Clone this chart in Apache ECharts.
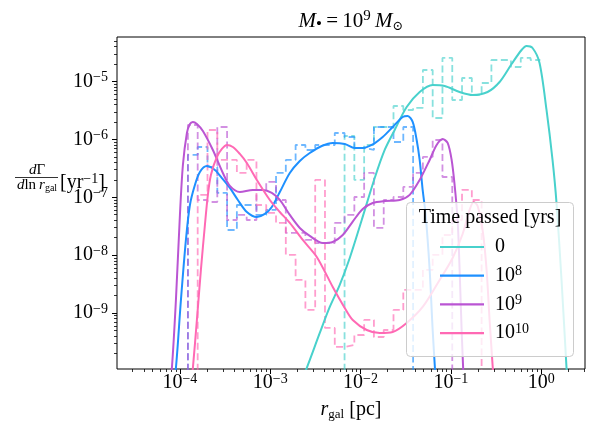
<!DOCTYPE html>
<html><head><meta charset="utf-8">
<script src="https://cdn.jsdelivr.net/npm/echarts@6.0.0/dist/echarts.min.js"></script>
<style>html,body{margin:0;padding:0;background:#fff}#c{width:597px;height:423px}</style>
</head><body><div id="c"></div>
<script>
// ---------- data ----------
const seriesNames = ['0', '10^8', '10^9', '10^10'];
const colors = ['#48D1CC', '#1E90FF', '#BA55D3', '#FF69B4'];
const xTickExps = [-4, -3, -2, -1, 0];
const yTickExps = [-9, -8, -7, -6, -5];
const X_MIN = 2.01e-5, X_MAX = 3.06, Y_MIN = 1.08e-10, Y_MAX = 5.87e-5;
const FLOOR = 1e-14; // empty bin (below the visible range)

const binEdges = [9.55e-5, 1.226e-4, 1.573e-4, 2.020e-4, 2.593e-4, 3.328e-4, 4.272e-4, 5.483e-4, 7.038e-4, 9.033e-4,
  1.1595e-3, 1.488e-3, 1.910e-3, 2.452e-3, 3.147e-3, 4.039e-3, 5.185e-3, 6.655e-3, 8.543e-3, 1.0965e-2,
  1.407e-2, 1.806e-2, 2.318e-2, 2.976e-2, 3.820e-2, 4.903e-2, 6.293e-2, 8.077e-2, 0.1037, 0.1330,
  0.1708, 0.2192, 0.2813, 0.3611, 0.4634, 0.5948, 0.7635, 0.9800, 1.258];

const hist0 = [null, null, null, null, null, null, null, null, null, null, null, null, null, null, null, null,
  0, 1.145e-6, 1.99e-7, 8.00e-7, 1.637e-6, 1.637e-6, 3.77e-6, 3.22e-6, 3.49e-6, 1.58e-5, 2.34e-6, 2.55e-5,
  4.79e-6, 1.149e-5, 5.85e-6, 9.42e-6, 2.35e-5, 2.35e-5, 1.779e-5, 2.55e-5, 2.35e-5, null];
const hist8 = [0, 5.38e-7, 7.39e-7, 3.34e-7, 1.19e-7, 2.72e-8, 7.36e-8, 7.36e-8, 4.95e-8, 6.04e-8, 2.63e-7,
  4.41e-7, 8.00e-7, 6.56e-7, 8.00e-7, 8.00e-7, 1.290e-6, 1.100e-6, 7.10e-7, 6.56e-7, 1.637e-6, 1.637e-6,
  9.02e-7, 1.637e-6, 0, null, null, null, null, null, null, null, null, null, null, null, null, null];
const hist9 = [0, 1.773e-6, 8.98e-8, 8.29e-8, 1.637e-6, 4.05e-8, 4.95e-8, 4.05e-8, 1.34e-7, 1.84e-7, 8.98e-8,
  2.42e-8, 2.42e-8, 1.83e-8, 1.62e-8, 1.62e-8, 3.60e-8, 4.95e-8, 1.01e-7, 2.63e-7, 2.95e-8, 8.98e-8, 1.01e-7,
  1.51e-7, 2.63e-7, 4.97e-7, 9.76e-7, 2.24e-7, 0, null, null, null, null, null, null, null, null, null];
const hist10 = [null, 0, 1.10e-7, 1.453e-6, 4.41e-7, 4.41e-7, 2.63e-7, 4.41e-7, 7.36e-8, 5.36e-8, 3.60e-8,
  1.008e-8, 3.73e-9, 1.131e-9, 1.99e-7, 5.53e-10, 2.60e-10, 2.81e-10, 4.18e-10, 7.60e-10, 3.86e-10, 5.10e-10,
  1.131e-9, 2.51e-9, 2.51e-9, 5.55e-9, 1.008e-8, 2.23e-8, 4.05e-8, 1.34e-7, 8.98e-8, 0, null, null, null, null, null, null];

const curve0X = [2.125e-3, 2.541e-3, 3.538e-3, 4.563e-3, 5.887e-3, 7.596e-3, 1.031e-2, 1.436e-2, 1.852e-2, 2.389e-2,
  3.244e-2, 4.517e-2, 6.292e-2, 8.537e-2, 0.1251, 0.1742, 0.2552, 0.3466, 0.4708, 0.6069, 0.6895, 0.8034, 0.9601,
  1.147, 1.337, 1.480, 1.682, 1.910, 2.010];
const curve0Y = [5.78e-11, 1.13e-10, 4.53e-10, 1.274e-9, 3.06e-9, 8.95e-9, 4.05e-8, 2.15e-7, 6.56e-7, 1.453e-6,
  3.63e-6, 6.59e-6, 8.70e-6, 8.36e-6, 6.59e-6, 5.85e-6, 6.59e-6, 9.80e-6, 2.005e-5, 3.50e-5, 4.10e-5, 3.79e-5, 2.09e-5,
  3.22e-6, 4.41e-7, 7.97e-8, 3.73e-9, 1.13e-10, 3.18e-11];

const curve8X = [7.75e-5, 9.03e-5, 1.026e-4, 1.165e-4, 1.290e-4, 1.465e-4, 1.664e-4, 1.989e-4, 2.438e-4, 2.915e-4,
  3.573e-4, 4.381e-4, 5.509e-4, 7.11e-4, 8.72e-4, 1.041e-3, 1.277e-3, 1.647e-3, 2.125e-3, 2.741e-3, 3.722e-3,
  4.927e-3, 6.687e-3, 8.625e-3, 1.057e-2, 1.330e-2, 1.760e-2, 2.271e-2, 2.929e-2, 3.327e-2, 3.779e-2, 4.184e-2,
  4.517e-2, 4.876e-2, 5.263e-2, 5.828e-2, 6.292e-2, 6.788e-2];
const curve8Y = [1.44e-11, 1.13e-10, 1.68e-9, 1.83e-8, 7.36e-8, 1.63e-7, 2.74e-7, 3.47e-7, 2.96e-7, 2.15e-7,
  1.45e-7, 8.98e-8, 5.57e-8, 4.57e-8, 5.15e-8, 6.80e-8, 1.23e-7, 2.63e-7, 4.24e-7, 5.82e-7, 7.69e-7,
  8.67e-7, 8.33e-7, 7.10e-7, 7.10e-7, 8.00e-7, 1.100e-6, 1.637e-6, 2.44e-6, 2.54e-6, 2.00e-6, 9.76e-7,
  4.41e-7, 1.34e-7, 4.95e-8, 5.55e-9, 5.10e-10, 7.05e-11];

const curve9X = [7.18e-5, 8.15e-5, 9.03e-5, 1e-4, 1.079e-4, 1.195e-4, 1.290e-4, 1.392e-4, 1.542e-4, 1.796e-4,
  2.317e-4, 2.989e-4, 3.573e-4, 4.611e-4, 6.42e-4, 8.28e-4, 1.041e-3, 1.277e-3, 1.647e-3, 2.125e-3, 2.741e-3,
  3.818e-3, 4.927e-3, 6.355e-3, 8.197e-3, 1.057e-2, 1.365e-2, 1.852e-2, 2.714e-2, 3.501e-2, 4.517e-2, 5.828e-2,
  6.96e-2, 8.114e-2, 9.218e-2, 0.1021, 0.1101, 0.1189, 0.1251, 0.1317, 0.1385];
const curve9Y = [1.44e-11, 1.13e-10, 1.68e-9, 4.95e-8, 3.61e-7, 1.290e-6, 1.845e-6, 2.00e-6, 1.845e-6, 1.397e-6,
  6.56e-7, 2.63e-7, 1.57e-7, 1.23e-7, 1.34e-7, 1.34e-7, 1.19e-7, 8.98e-8, 4.95e-8, 2.95e-8, 2.15e-8,
  1.62e-8, 1.69e-8, 2.23e-8, 3.80e-8, 6.28e-8, 7.97e-8, 8.63e-8, 8.98e-8, 1.10e-7, 1.99e-7, 4.41e-7,
  8.00e-7, 1.016e-6, 8.67e-7, 4.41e-7, 1.63e-7, 4.05e-8, 5.55e-9, 5.10e-10, 7.05e-11];

const curve10X = [1.226e-4, 1.392e-4, 1.542e-4, 1.707e-4, 1.891e-4, 2.04e-4, 2.203e-4, 2.566e-4, 2.915e-4, 3.311e-4,
  3.857e-4, 4.611e-4, 5.509e-4, 7.11e-4, 9.90e-4, 1.277e-3, 1.647e-3, 2.294e-3, 3.277e-3, 4.927e-3, 6.687e-3,
  8.197e-3, 1.171e-2, 1.631e-2, 2.271e-2, 3.244e-2, 4.876e-2, 7.515e-2, 0.1047, 0.1351, 0.1614, 0.1788, 0.1980,
  0.2248, 0.2489, 0.2686, 0.2974];
const curve10Y = [1.44e-11, 1.13e-10, 7.60e-10, 5.55e-9, 3.32e-8, 1.10e-7, 2.43e-7, 4.97e-7, 6.83e-7, 8.00e-7,
  7.39e-7, 5.60e-7, 3.91e-7, 1.99e-7, 8.98e-8, 5.57e-8, 3.60e-8, 1.83e-8, 9.31e-9, 2.82e-9, 1.225e-9,
  7.60e-10, 5.10e-10, 4.53e-10, 4.72e-10, 6.75e-10, 1.274e-9, 3.73e-9, 8.95e-9, 2.32e-8, 6.04e-8, 8.29e-8, 7.08e-8,
  2.72e-8, 5.55e-9, 7.60e-10, 7.05e-11];

// ---------- helpers ----------
const FONT = '"Liberation Serif", "DejaVu Serif", serif';
const curvesX = [curve0X, curve8X, curve9X, curve10X];
const curvesY = [curve0Y, curve8Y, curve9Y, curve10Y];
const hists = [hist0, hist8, hist9, hist10];

function stepData(vals) {
  const pts = [];
  const s = vals.findIndex(v => v !== null);
  let e = vals.length - 1;
  while (vals[e] === null) e--;
  for (let i = s; i <= e; i++) pts.push([binEdges[i], vals[i] || FLOOR]);
  pts.push([binEdges[e + 1], vals[e] || FLOOR]);
  return pts;
}
const LX = [Math.log10(X_MIN), Math.log10(X_MAX)];
const LY = [Math.log10(Y_MIN), Math.log10(Y_MAX)];
function minorLogs(ext) {
  const out = [];
  for (let e = Math.floor(ext[0]); e <= Math.ceil(ext[1]); e++)
    for (let m = 2; m <= 9; m++) {
      const v = e + Math.log10(m);
      if (v > ext[0] && v < ext[1]) out.push(v);
    }
  return out;
}
function powLabel(v) {
  const e = Math.round(v);
  return '{b|10}{s|' + (e < 0 ? '\u2212' + (-e) : String(e)) + '}';
}
const tickRich = {
  b: { fontFamily: FONT, fontSize: 20, lineHeight: 22, color: '#000' },
  s: { fontFamily: FONT, fontSize: 14, lineHeight: 9, verticalAlign: 'top', color: '#000' }
};
const legendLabels = { '0': '{g|}{b|0}', '10^8': '{g|}{b|10}{s|8}', '10^9': '{g|}{b|10}{s|9}', '10^10': '{g|}{b|10}{s|10}' };

const gridRect = { left: 117, right: 12, top: 37, bottom: 54 };
const hidden = { axisLine: { show: false }, axisTick: { show: false }, axisLabel: { show: false }, splitLine: { show: false } };
const noLine = { show: false, onZero: false };

const series = [];
hists.forEach((h, i) => series.push({
  name: seriesNames[i] + ' hist', type: 'line', xAxisIndex: 0, yAxisIndex: 0,
  data: stepData(h), step: 'end', showSymbol: false, symbol: 'none', z: 2,
  lineStyle: { color: colors[i], width: 1.8, type: [7, 3.5], opacity: 0.65 }, silent: true
}));
curvesX.forEach((xs, i) => series.push({
  name: seriesNames[i], type: 'line', xAxisIndex: 0, yAxisIndex: 0,
  data: xs.map((x, j) => [x, curvesY[i][j]]), smooth: 0.3, showSymbol: false, symbol: 'none', z: 3,
  itemStyle: { color: colors[i] }, lineStyle: { color: colors[i], width: 2 }
}));

const chart = echarts.init(document.getElementById('c'), null, { renderer: 'canvas' });
chart.setOption({
  animation: false,
  backgroundColor: '#fff',
  grid: [
    Object.assign({ show: true, borderColor: '#000', borderWidth: 1, backgroundColor: 'transparent' }, gridRect),
    Object.assign({ show: false }, gridRect),
    Object.assign({ show: false }, gridRect)
  ],
  xAxis: [
    Object.assign({ type: 'log', logBase: 10, gridIndex: 0, min: X_MIN, max: X_MAX }, hidden),
    { type: 'value', gridIndex: 1, min: LX[0], max: LX[1], position: 'bottom',
      axisLine: noLine, splitLine: { show: false },
      axisTick: { show: true, length: 5, customValues: xTickExps, lineStyle: { color: '#000', width: 1 } },
      axisLabel: { show: true, customValues: xTickExps, formatter: powLabel, rich: tickRich, margin: 3 } },
    { type: 'value', gridIndex: 2, min: LX[0], max: LX[1], position: 'bottom',
      axisLine: noLine, splitLine: { show: false }, axisLabel: { show: false },
      axisTick: { show: true, length: 3, customValues: minorLogs(LX), lineStyle: { color: '#000', width: 0.8 } } }
  ],
  yAxis: [
    Object.assign({ type: 'log', logBase: 10, gridIndex: 0, min: Y_MIN, max: Y_MAX }, hidden),
    { type: 'value', gridIndex: 1, min: LY[0], max: LY[1], position: 'left',
      axisLine: noLine, splitLine: { show: false },
      axisTick: { show: true, length: 5, customValues: yTickExps, lineStyle: { color: '#000', width: 1 } },
      axisLabel: { show: true, customValues: yTickExps, formatter: powLabel, rich: tickRich, margin: 9 } },
    { type: 'value', gridIndex: 2, min: LY[0], max: LY[1], position: 'left',
      axisLine: noLine, splitLine: { show: false }, axisLabel: { show: false },
      axisTick: { show: true, length: 3, customValues: minorLogs(LY), lineStyle: { color: '#000', width: 0.8 } } }
  ],
  legend: {
    data: seriesNames, orient: 'vertical', left: 440, top: 237, itemWidth: 44, itemHeight: 2.2, itemGap: 7.7,
    icon: 'rect', selectedMode: false, z: 20, padding: 0,
    formatter: n => legendLabels[n],
    textStyle: { fontFamily: FONT, fontSize: 20, color: '#000', rich: {
      g: { width: 6, lineHeight: 22 },
      b: { fontFamily: FONT, fontSize: 20, lineHeight: 22, color: '#000' },
      s: { fontFamily: FONT, fontSize: 14, lineHeight: 9, verticalAlign: 'top', color: '#000' } } }
  },
  graphic: [
    { type: 'rect', z: 10, shape: { x: 406.5, y: 202.5, width: 167, height: 154, r: 4 },
      style: { fill: 'rgba(255,255,255,0.8)', stroke: '#cccccc', lineWidth: 1 } },
    { type: 'text', z: 11, x: 490, y: 218, style: { text: 'Time passed [yrs]', font: '20px ' + FONT, fill: '#000', align: 'center', verticalAlign: 'middle' } },
    { type: 'text', z: 11, x: 351, y: 21, style: {
      text: '{i|M}{sb|\u2022}{n|\u2009=\u200910}{sp|9}{n|\u2009}{i|M}{so|\u2299}', align: 'center', verticalAlign: 'middle', fill: '#000',
      rich: {
        i: { fontFamily: FONT, fontStyle: 'italic', fontSize: 21, lineHeight: 24 },
        n: { fontFamily: FONT, fontSize: 21, lineHeight: 24 },
        sb: { fontFamily: FONT, fontSize: 17, lineHeight: 16, verticalAlign: 'bottom' },
        so: { fontFamily: FONT, fontSize: 13, lineHeight: 10, verticalAlign: 'bottom' },
        sp: { fontFamily: FONT, fontSize: 15, lineHeight: 10, verticalAlign: 'top' } } } },
    { type: 'text', z: 11, x: 351, y: 410, style: {
      text: '{i|r}{sb|gal}{n| [pc]}', align: 'center', verticalAlign: 'middle', fill: '#000',
      rich: {
        i: { fontFamily: FONT, fontStyle: 'italic', fontSize: 20, lineHeight: 22 },
        n: { fontFamily: FONT, fontSize: 20, lineHeight: 22 },
        sb: { fontFamily: FONT, fontSize: 13, lineHeight: 10, verticalAlign: 'bottom' } } } },
    { type: 'text', z: 11, x: 37, y: 170, style: {
      text: '{i|d}{n|\u0393}', align: 'center', verticalAlign: 'middle', fill: '#000',
      rich: { i: { fontFamily: FONT, fontStyle: 'italic', fontSize: 15 }, n: { fontFamily: FONT, fontSize: 15 } } } },
    { type: 'line', z: 11, shape: { x1: 15, y1: 177.5, x2: 58, y2: 177.5 }, style: { stroke: '#000', lineWidth: 0.8 } },
    { type: 'text', z: 11, x: 37, y: 185, style: {
      text: '{i|d}{n|ln\u2009}{i|r}{sb|gal}', align: 'center', verticalAlign: 'middle', fill: '#000',
      rich: { i: { fontFamily: FONT, fontStyle: 'italic', fontSize: 15, lineHeight: 16 },
              n: { fontFamily: FONT, fontSize: 15, lineHeight: 16 },
              sb: { fontFamily: FONT, fontSize: 10, lineHeight: 8, verticalAlign: 'bottom' } } } },
    { type: 'text', z: 11, x: 60, y: 183, style: {
      text: '{n|[yr}{sp|\u22121}{n|]}', align: 'left', verticalAlign: 'middle', fill: '#000',
      rich: { n: { fontFamily: FONT, fontSize: 20, lineHeight: 22 },
              sp: { fontFamily: FONT, fontSize: 14, lineHeight: 9, verticalAlign: 'top' } } } }
  ],
  series: series
});
</script>
</body></html>
